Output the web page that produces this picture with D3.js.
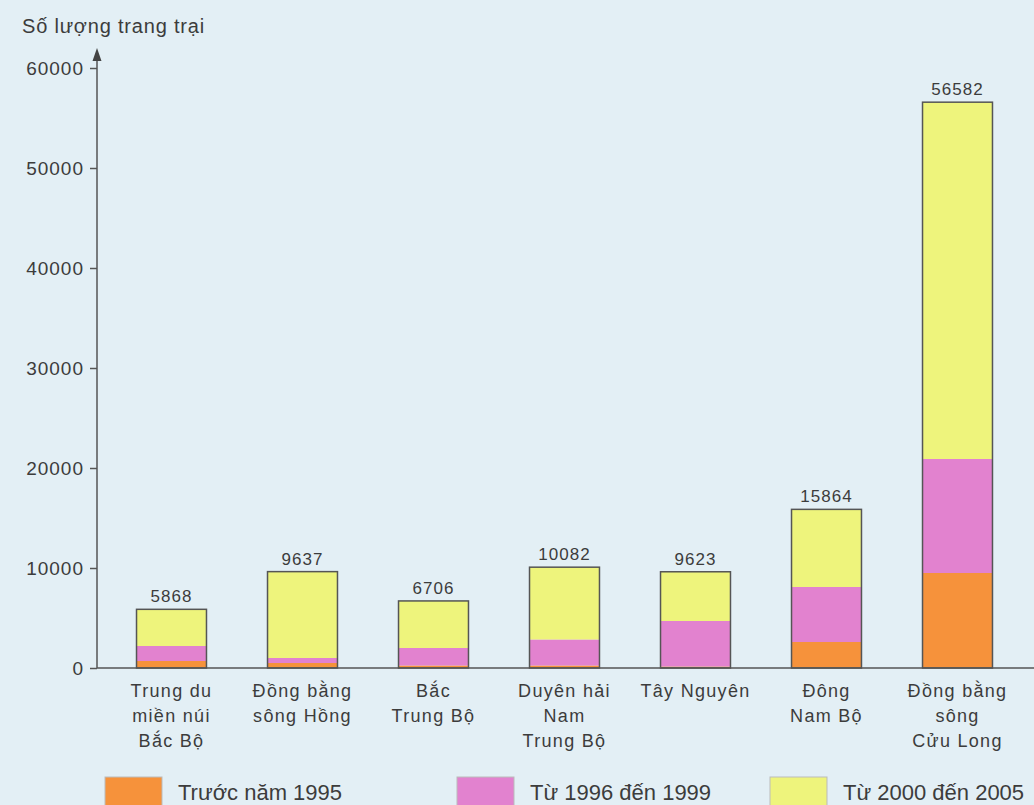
<!DOCTYPE html>
<html><head><meta charset="utf-8">
<script src="https://cdn.jsdelivr.net/npm/d3@7"></script>
<style>
html,body{margin:0;padding:0;background:#e3eff5;}
svg{display:block;}
text{font-family:"Liberation Sans",Arial,sans-serif;fill:#3c3c3c;}
</style></head>
<body>
<svg id="c" width="1034" height="805"></svg>
<script>
const categories = [
  ["Trung du","miền núi","Bắc Bộ"],
  ["Đồng bằng","sông Hồng"],
  ["Bắc","Trung Bộ"],
  ["Duyên hải","Nam","Trung Bộ"],
  ["Tây Nguyên"],
  ["Đông","Nam Bộ"],
  ["Đồng bằng","sông","Cửu Long"]
];
const before1995 = [700, 500, 250, 250, 150, 2600, 9500];
const from1996to1999 = [1500, 500, 1750, 2600, 4550, 5500, 11400];
const from2000to2005 = [3668, 8637, 4706, 7232, 4923, 7764, 35682];
const totals = [5868, 9637, 6706, 10082, 9623, 15864, 56582];
const seriesNames = ["Trước năm 1995", "Từ 1996 đến 1999", "Từ 2000 đến 2005"];
const yTicks = [0, 10000, 20000, 30000, 40000, 50000, 60000];
const yTitle = "Số lượng trang trại";

const colors = ["#f6923b", "#e282cf", "#eef47c"];
const svg = d3.select("#c");

const x = d3.scaleBand().domain(d3.range(categories.length))
  .range([106, 1023]).paddingInner(0.466).paddingOuter(0.233);
const y = d3.scaleLinear().domain([0, 60000]).range([668, 68]);

const rows = categories.map((c, i) => ({i, a: before1995[i], b: from1996to1999[i], c: from2000to2005[i]}));
const stack = d3.stack().keys(["a","b","c"])(rows);

// bars
stack.forEach((layer, k) => {
  svg.append("g").selectAll("rect").data(layer).join("rect")
    .attr("x", d => x(d.data.i))
    .attr("width", x.bandwidth())
    .attr("y", d => y(d[1]))
    .attr("height", d => y(d[0]) - y(d[1]))
    .attr("fill", colors[k]);
});
// outlines
svg.append("g").selectAll("rect").data(totals).join("rect")
  .attr("x", (d, i) => x(i))
  .attr("width", x.bandwidth())
  .attr("y", d => y(d))
  .attr("height", d => y(0) - y(d))
  .attr("fill", "none").attr("stroke", "#555").attr("stroke-width", 1.5);

// value labels
svg.append("g").selectAll("text").data(totals).join("text")
  .attr("x", (d, i) => x(i) + x.bandwidth() / 2)
  .attr("y", d => y(d) - 7)
  .attr("text-anchor", "middle")
  .style("font-size", "17px").style("letter-spacing", "1px")
  .text(d => d);

// y axis
const yAxis = d3.axisLeft(y).tickValues(yTicks).tickSize(7).tickPadding(6).tickFormat(d3.format("d"));
const ga = svg.append("g").attr("transform", "translate(97,0)").call(yAxis);
ga.select(".domain").remove();
ga.selectAll(".tick line").attr("stroke", "#555").attr("stroke-width", 1.5);
ga.selectAll(".tick text").style("font-size", "19px").style("letter-spacing", "1px")
  .style("font-family", "'Liberation Sans',Arial,sans-serif").attr("fill", "#3c3c3c");

svg.append("line").attr("x1", 97).attr("x2", 97).attr("y1", y(0)).attr("y2", 58)
  .attr("stroke", "#555").attr("stroke-width", 1.5);
svg.append("path").attr("d", "M97,48 L92.5,61 L101.5,61 Z").attr("fill", "#444");
svg.append("line").attr("x1", 97).attr("x2", 1034).attr("y1", y(0)).attr("y2", y(0))
  .attr("stroke", "#555").attr("stroke-width", 1.5);

svg.append("text").attr("x", 22).attr("y", 33).style("font-size", "20px").style("letter-spacing", "0.8px").text(yTitle);

// category labels
const cg = svg.append("g").selectAll("text").data(categories).join("text")
  .attr("text-anchor", "middle")
  .style("font-size", "18px").style("letter-spacing", "1.3px");
cg.each(function(lines, i) {
  d3.select(this).selectAll("tspan").data(lines).join("tspan")
    .attr("x", x(i) + x.bandwidth() / 2)
    .attr("y", (l, j) => 697 + j * 25)
    .text(l => l);
});

// legend
const legX = [105, 457, 770];
const lg = svg.append("g").selectAll("g").data(seriesNames).join("g")
  .attr("transform", (d, i) => `translate(${legX[i]},777)`);
lg.append("rect").attr("width", 57).attr("height", 30).attr("fill", (d, i) => colors[i])
  .attr("stroke", "#bbb").attr("stroke-width", 1);
lg.append("text").attr("x", 73).attr("y", 23).style("font-size", "22px").text(d => d);
</script>
</body></html>
